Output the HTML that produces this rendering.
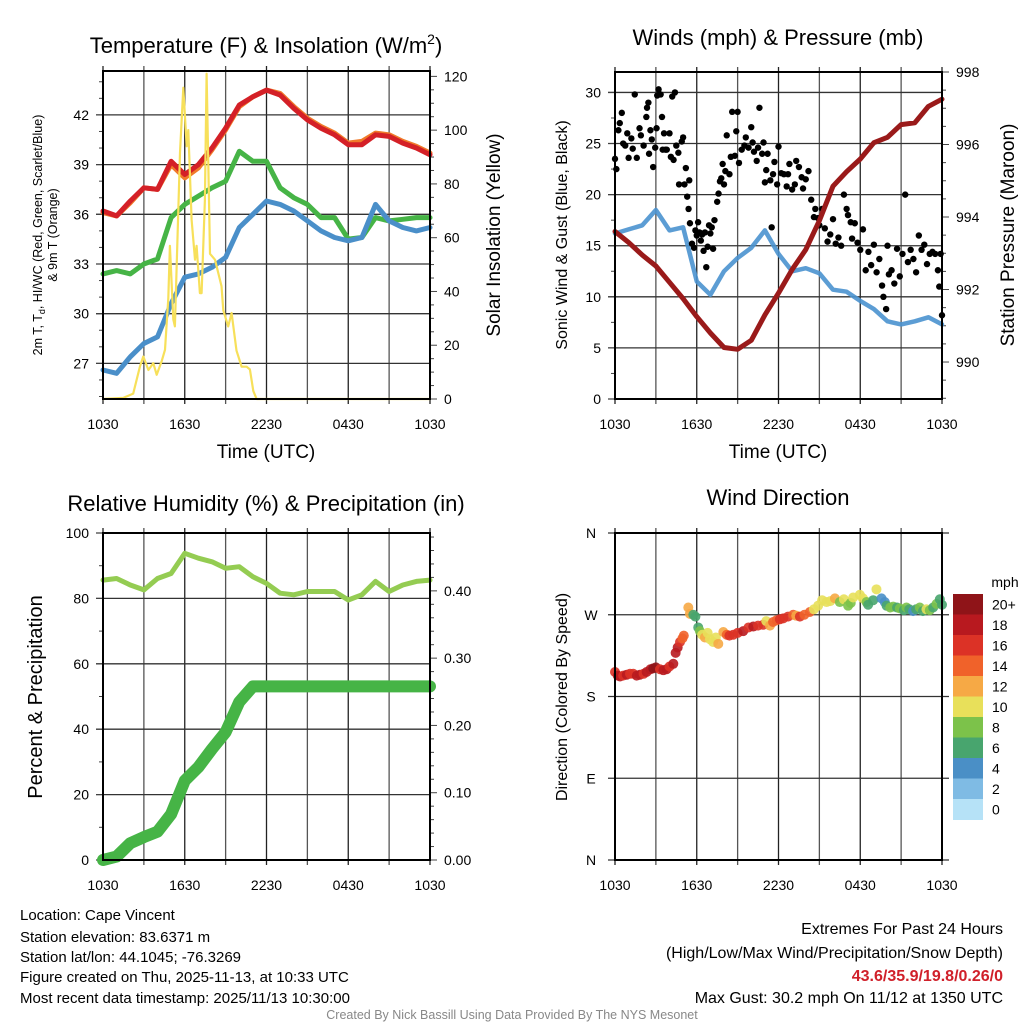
<!DOCTYPE html>
<html><head><meta charset="utf-8"><style>
html,body{margin:0;padding:0;background:#fff;}
svg{display:block;font-family:"Liberation Sans",sans-serif;}
</style></head><body>
<svg id="fig" width="1024" height="1024" viewBox="0 0 1024 1024">
<rect width="1024" height="1024" fill="#fff"/>
<g id="axes-layer"></g>
<g id="marks-layer"></g>
<g id="frame-layer"></g>
<text x="266" y="53" font-size="22" text-anchor="middle">Temperature (F) &amp; Insolation (W/m<tspan dy="-9" font-size="14">2</tspan><tspan dy="9">)</tspan></text>
<text x="778" y="45" font-size="22" text-anchor="middle">Winds (mph) &amp; Pressure (mb)</text>
<text x="266" y="511" font-size="22" text-anchor="middle">Relative Humidity (%) &amp; Precipitation (in)</text>
<text x="778" y="505" font-size="22" text-anchor="middle">Wind Direction</text>
<text x="266" y="458" font-size="19" text-anchor="middle">Time (UTC)</text>
<text x="778" y="458" font-size="19" text-anchor="middle">Time (UTC)</text>
<text transform="translate(42,235) rotate(-90)" font-size="12.5" text-anchor="middle">2m T, T<tspan dy="3" font-size="9">d</tspan><tspan dy="-3">, HI/WC (Red, Green, Scarlet/Blue)</tspan></text>
<text transform="translate(57,235) rotate(-90)" font-size="12.5" text-anchor="middle">&amp; 9m T (Orange)</text>
<text transform="translate(500,235) rotate(-90)" font-size="19" text-anchor="middle">Solar Insolation (Yellow)</text>
<text transform="translate(567,235) rotate(-90)" font-size="16" text-anchor="middle">Sonic Wind &amp; Gust (Blue, Black)</text>
<text transform="translate(1014,235) rotate(-90)" font-size="19" text-anchor="middle">Station Pressure (Maroon)</text>
<text transform="translate(42,697) rotate(-90)" font-size="20" text-anchor="middle">Percent &amp; Precipitation</text>
<text transform="translate(567,697) rotate(-90)" font-size="16" text-anchor="middle">Direction (Colored By Speed)</text>
<g font-size="15">
<text x="20" y="920">Location: Cape Vincent</text>
<text x="20" y="942">Station elevation: 83.6371 m</text>
<text x="20" y="962">Station lat/lon: 44.1045; -76.3269</text>
<text x="20" y="982">Figure created on Thu, 2025-11-13, at 10:33 UTC</text>
<text x="20" y="1003">Most recent data timestamp: 2025/11/13 10:30:00</text>
</g>
<g font-size="16" text-anchor="end">
<text x="1003" y="934">Extremes For Past 24 Hours</text>
<text x="1003" y="958">(High/Low/Max Wind/Precipitation/Snow Depth)</text>
<text x="1003" y="981" fill="#d0202a" font-weight="bold">43.6/35.9/19.8/0.26/0</text>
<text x="1003" y="1003">Max Gust: 30.2 mph On 11/12 at 1350 UTC</text>
</g>
<text x="512" y="1019" font-size="12.5" fill="#888" text-anchor="middle">Created By Nick Bassill Using Data Provided By The NYS Mesonet</text>
</svg>
<script>
// ---- data ----
const hours = [0,1,2,3,4,5,6,7,8,9,10,11,12,13,14,15,16,17,18,19,20,21,22,23,24];
const xTickLabels = ["1030","1630","2230","0430","1030"];
const tempRed = [36.2,35.9,36.8,37.6,37.5,39.2,38.4,39.0,40.0,41.2,42.6,43.1,43.5,43.2,42.4,41.7,41.2,40.8,40.2,40.2,40.8,40.7,40.3,40.0,39.6];
const temp9mOrange = [36.1,35.9,36.7,37.6,37.5,39.0,38.2,38.8,39.9,41.1,42.5,43.1,43.5,43.3,42.5,41.8,41.3,40.9,40.3,40.4,40.9,40.8,40.4,40.1,39.7];
const dewGreen = [32.4,32.6,32.4,33.0,33.3,35.8,36.6,37.1,37.6,38.0,39.8,39.2,39.2,37.6,37.0,36.6,35.8,35.8,34.5,34.6,35.8,35.6,35.7,35.8,35.8];
const wcBlue = [26.6,26.4,27.4,28.2,28.6,30.6,32.2,32.4,32.8,33.4,35.2,36.0,36.8,36.6,36.2,35.6,35.0,34.6,34.4,34.6,36.6,35.6,35.2,35.0,35.2];
const solarTime = [0,1.49,2.22,2.71,2.96,3.33,3.69,3.94,4.30,4.55,4.79,4.91,5.16,5.28,5.65,5.89,6.14,6.26,6.50,6.75,6.87,7.11,7.24,7.48,7.60,7.85,8.22,8.70,8.83,9.19,9.44,9.80,10.17,10.54,10.78,11.03,11.27,24];
const solarVal = [0,0.4,2,12,15.8,10.8,13.3,9,14,18.3,37.4,57,29.6,27,91.6,115.8,94,100,66.7,51.8,57,39.4,39.4,74,121,54,51.8,42,33,27,32,18,12,12,11,3,0,0];
const windBlue = [16.2,16.6,17.0,18.5,16.5,16.8,11.5,10.2,12.5,13.8,14.8,16.5,14.2,12.5,12.8,12.3,10.7,10.5,9.6,8.8,7.6,7.3,7.6,8.0,7.3];
const pressure = [993.6,993.3,992.95,992.65,992.2,991.75,991.25,990.8,990.4,990.35,990.6,991.3,991.9,992.55,993.1,993.9,994.85,995.25,995.6,996.05,996.2,996.55,996.6,997.05,997.25];
const gustTime = [0.0,0.1,0.25,0.35,0.5,0.6,0.75,0.9,1.0,1.2,1.3,1.45,1.6,1.8,1.9,2.1,2.3,2.35,2.45,2.5,2.6,2.7,2.8,2.95,3.05,3.1,3.2,3.35,3.45,3.5,3.6,3.7,3.8,4.0,4.1,4.2,4.3,4.4,4.5,4.65,4.7,4.9,5.0,5.1,5.2,5.3,5.4,5.45,5.5,5.65,5.8,5.9,6.0,6.1,6.2,6.3,6.4,6.5,6.6,6.7,6.8,6.9,7.0,7.1,7.2,7.3,7.5,7.6,7.7,7.8,7.9,8.0,8.1,8.2,8.4,8.5,8.6,8.8,8.9,9.0,9.1,9.3,9.5,9.6,9.8,10.0,10.1,10.2,10.4,10.5,10.6,10.8,10.9,11.0,11.1,11.2,11.4,11.5,11.6,11.7,11.9,12.0,12.2,12.4,12.6,12.7,12.8,13.0,13.2,13.3,13.5,13.7,13.8,14.0,14.2,14.4,14.6,14.7,14.9,15.0,15.2,15.4,15.6,15.8,16.0,16.2,16.4,16.6,16.8,17.0,17.1,17.3,17.4,17.6,17.8,18.0,18.2,18.4,18.6,18.8,19.0,19.2,19.4,19.6,19.7,19.9,20.0,20.1,20.3,20.5,20.7,20.9,21.1,21.3,21.5,21.7,21.9,22.1,22.3,22.5,22.7,22.9,23.1,23.3,23.5,23.7,23.8,23.9,24.0];
const gustVal = [23.5,22.5,26.3,27,28,25,24.8,26,23.6,25.5,24.5,29.8,23.6,26.5,25.8,24.8,27.6,28.5,29.0,24.0,26.3,25.4,22.7,24.6,26.5,29.7,30.3,29.8,27.6,24.4,26.0,24.4,24.4,26.0,23.7,29.6,23.4,30.0,24.8,24.1,21.0,25.2,25.6,21.0,22.6,19.8,18.6,21.4,17.2,15.2,14.8,16.5,16.0,17.3,16.3,15.5,16.1,14.5,16.3,12.9,14.9,17.0,16.2,16.8,14.7,17.5,19.3,20.1,21.3,21.6,23.0,21.0,22.3,25.8,22.0,23.7,28.1,23.8,26.2,28.1,23.1,24.4,24.8,25.6,24.6,26.6,25.1,24.2,23.3,24.6,28.5,24.0,25.1,21.2,22.4,24.0,21.4,16.8,22.0,23.2,21.0,24.7,22.1,22.0,20.8,22.0,23.0,20.5,21.0,23.3,22.7,21.7,20.6,21.5,22.3,19.5,17.8,18.6,17.7,17.0,18.6,16.7,15.4,16.1,17.6,15.2,15.8,15.0,20.0,18.6,18.0,17.3,15.7,17.2,15.3,14.6,16.6,12.6,14.4,13.1,15.1,12.4,13.7,11.1,10.0,8.8,15.0,12.2,12.6,11.3,14.7,12.0,14.2,20.0,13.4,14.6,13.7,12.4,16.0,14.6,15.1,13.2,14.2,14.4,14.2,12.6,11.0,14.2,8.2];
const rhVal = [85.6,86.1,84.1,82.6,86.1,87.6,93.8,92.3,91.2,89.2,89.7,86.6,84.6,81.6,81.1,82.1,82.1,82.1,79.5,81.1,85.2,82.1,84.1,85.2,85.6];
const precipVal = [0,0.005,0.025,0.034,0.042,0.068,0.118,0.138,0.165,0.19,0.235,0.258,0.258,0.258,0.258,0.258,0.258,0.258,0.258,0.258,0.258,0.258,0.258,0.258,0.258];
const dirTime = [0,0.2,0.37,0.6,0.86,1.1,1.34,1.6,1.83,2.1,2.32,2.6,2.81,3.0,3.3,3.55,3.79,4.0,4.28,4.45,4.6,4.77,4.95,5.05,5.38,5.5,5.75,5.9,6.11,6.23,6.4,6.6,6.8,6.97,7.2,7.4,7.58,7.95,8.2,8.4,8.68,9.0,9.41,9.8,10.15,10.5,10.88,11.1,11.37,11.6,11.86,12.1,12.35,12.7,13.08,13.3,13.57,13.9,14.3,14.6,14.91,15.2,15.53,15.8,16.14,16.5,16.8,17.11,17.3,17.48,17.97,18.2,18.46,18.58,18.95,19.19,19.56,19.8,19.93,20.2,20.42,20.7,20.9,21.2,21.39,21.6,21.88,22.1,22.37,22.6,22.86,23.1,23.35,23.6,23.84,24];
const dirVal = [207,203,202,203,204,205,205,203,204,205,207,210,211,212,210,209,210,213,216,228,234,240,244,247,278,271,270,268,256,252,248,245,250,243,240,245,238,251,248,247,248,250,252,256,257,258,259,263,258,262,264,265,266,268,270,269,268,270,273,276,280,286,284,285,288,284,287,280,283,289,292,288,284,281,286,298,288,284,280,278,279,278,277,275,278,276,274,276,278,274,276,275,278,282,287,281];
const dirSpd = [17,18,19,17,18,16,17,18,19,17,18,19,20,20,17,18,18,17,18,19,18,16,15,14,13,12,6,7,7,9,10,13,10,10,10,10,12,13,15,17,16,17,18,17,18,16,17,11,12,14,15,16,17,16,14,12,16,15,14,10,10,10,11,10,12,9,10,8,9,10,10,11,9,7,6,10,4,5,7,8,8,7,8,7,8,7,4,7,8,7,10,8,7,8,7,6];
const dirTickLabels = ["N","E","S","W","N"];
const cbLabels = ["20+","18","16","14","12","10","8","6","4","2","0"];
const cbColors = ["#8f1418","#b8191f","#dc3226","#f0622a","#f6a945","#e8e05a","#7cc24a","#48a56e","#4a8fc6","#7fbbe4","#b6e2f7"];

// ---- helpers ----
const NS="http://www.w3.org/2000/svg";
const axesL=document.getElementById('axes-layer');
const marksL=document.getElementById('marks-layer');
const frameL=document.getElementById('frame-layer');
function mk(tag, attrs, parent){const e=document.createElementNS(NS,tag);for(const k in attrs)e.setAttribute(k,attrs[k]);parent.appendChild(e);return e;}
function lin(d0,d1,r0,r1){return v=>r0+(v-d0)*(r1-r0)/(d1-d0);}
function path(xs,ys,xf,yf){return xs.map((t,i)=>(i?'L':'M')+xf(t).toFixed(1)+','+yf(ys[i]).toFixed(1)).join('');}

const P1={x0:103,x1:430,y0:71,y1:399};
const P2={x0:615,x1:942,y0:72,y1:399};
const P3={x0:103,x1:430,y0:533,y1:860};
const P4={x0:615,x1:942,y0:533,y1:860};

function frame(P,prefix){
  const xf=lin(0,24,P.x0,P.x1);
  for(let h=0;h<=24;h+=3){
    const l=mk('line',{x1:xf(h),x2:xf(h),y1:P.y0-5,y2:P.y1+5,stroke:(h%6===0)?'#222':'#555','stroke-width':1.3},axesL);
    
    
  }
  xTickLabels.forEach((s,i)=>{
    const t=mk('text',{x:xf(i*6),y:P.y1+30,'font-size':14,'text-anchor':'middle'},axesL);
    t.textContent=s;
    
    
  });
  const r=mk('rect',{x:P.x0,y:P.y0,width:P.x1-P.x0,height:P.y1-P.y0,fill:'none',stroke:'#000','stroke-width':2},frameL);
  
  
  return xf;
}
function yAxis(P,prefix,side,d0,d1,major,minor,fmt,grid){
  const yf=lin(d0,d1,P.y1,P.y0);
  const xe= side==='left'?P.x0:P.x1, dir= side==='left'?-1:1;
  const eps=1e-6;
  for(let v=Math.ceil(d0/minor-eps)*minor; v<=d1+eps; v+=minor){
    const isMaj=Math.abs(v/major-Math.round(v/major))<1e-6;
    const y=yf(v);
    if(isMaj&&grid){
      const g=mk('line',{x1:P.x0-7,x2:P.x1+(side==='left'?0:7),y1:y,y2:y,stroke:'#333','stroke-width':1.3},axesL);
      
      
    }
    const tk=mk('line',{x1:xe,x2:xe+dir*(isMaj?7:4),y1:y,y2:y,stroke:'#444','stroke-width':1},axesL);
    
    
    if(isMaj&&fmt){
      const t=mk('text',{x:xe+dir*14,y:y+5,'font-size':14,'text-anchor':side==='left'?'end':'start'},axesL);
      t.textContent=fmt(v);
      
      
    }
  }
  return yf;
}
function line(xf,yf,xs,ys,color,w,name,op){
  const p=mk('path',{d:path(xs,ys,xf,yf),fill:'none',stroke:color,'stroke-width':w,'stroke-linejoin':'round','stroke-linecap':'round',opacity:op||1},marksL);
  
  
}

// Panel 1
const x1f=frame(P1,'temp');
const yT=yAxis(P1,'temp','left',24.85,44.65,3,1,v=>Math.round(v),true);
const yS=yAxis(P1,'solar','right',0,122,20,5,v=>Math.round(v),false);
line(x1f,yT,hours,temp9mOrange,'#f07a2a',5,'temp-9m-orange-line');
line(x1f,yT,hours,tempRed,'#d42027',5,'temp-2m-red-line');
line(x1f,yT,hours,dewGreen,'#46b446',5,'dewpoint-green-line');
line(x1f,yT,hours,wcBlue,'#4a8fc9',5,'windchill-blue-line');
line(x1f,yS,solarTime,solarVal,'#f7e05a',2.2,'solar-yellow-line');

// Panel 2
const x2f=frame(P2,'wind');
const yW=yAxis(P2,'wind','left',0,32,5,2.5,v=>Math.round(v),true);
const yP=yAxis(P2,'pressure','right',988.98,998.0,2,0.5,v=>Math.round(v),false);
line(x2f,yW,hours,windBlue,'#4a92cf',4.5,'sonic-wind-line',0.9);
gustTime.forEach((t,i)=>{
  const c=mk('circle',{cx:x2f(t),cy:yW(gustVal[i]),r:3.2,fill:'#000'},marksL);
  
  
});
line(x2f,yP,hours,pressure,'#9a1a1a',5,'pressure-maroon-line');

// Panel 3
const x3f=frame(P3,'rh');
const yR=yAxis(P3,'rh','left',0,100,20,10,v=>Math.round(v),true);
const yPr=yAxis(P3,'precip','right',0,0.486,0.1,0.02,v=>v.toFixed(2),false);
line(x3f,yR,hours,rhVal,'#94cc52',5,'rh-line');
line(x3f,yPr,hours,precipVal,'#46b446',12,'precip-line');

// Panel 4
const x4f=frame(P4,'dir');
const yD=lin(0,360,P4.y1,P4.y0);
dirTickLabels.forEach((s,i)=>{
  const y=yD(i*90);
  const g=mk('line',{x1:P4.x0-7,x2:P4.x1+7,y1:y,y2:y,stroke:'#333','stroke-width':1.3},axesL);
  
  
  const t=mk('text',{x:591,y:y+5,'font-size':14,'text-anchor':'middle'},axesL);
  t.textContent=s;
  
  
});
dirTime.forEach((t,i)=>{
  const idx=Math.min(10,Math.floor(dirSpd[i]/2));
  const c=mk('circle',{cx:x4f(t),cy:yD(dirVal[i]),r:5,fill:cbColors[10-idx],opacity:0.9},marksL);
  
  
});
// colorbar
const cbTop=594, cbH=20.5;
const mphT=mk('text',{x:1005,y:587,'font-size':14,'text-anchor':'middle'},axesL);
mphT.textContent='mph';


cbColors.forEach((col,i)=>{
  const r=mk('rect',{x:953,y:cbTop+i*cbH,width:30,height:cbH+0.5,fill:col},axesL);
  
  
  const t=mk('text',{x:992,y:cbTop+i*cbH+cbH/2+5,'font-size':14},axesL);
  t.textContent=cbLabels[i];
  
  
});
</script>
</body></html>
